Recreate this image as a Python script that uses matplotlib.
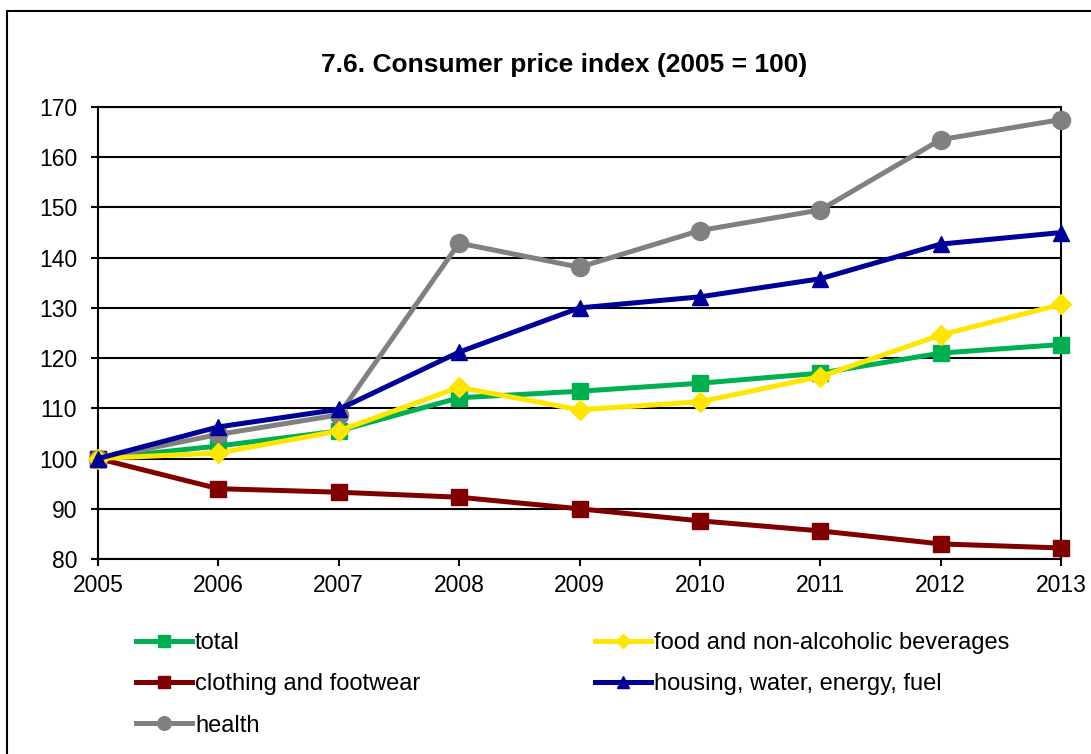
import matplotlib.pyplot as plt
from matplotlib.patches import Rectangle

plt.rcParams['font.family'] = ['Liberation Sans', 'DejaVu Sans']

# -----------------------------
# Data
# -----------------------------
years = [2005, 2006, 2007, 2008, 2009, 2010, 2011, 2012, 2013]
total = [100, 102.5, 105.5, 112.1, 113.4, 115.0, 117.0, 121.0, 122.7]
food = [100, 101.1, 105.5, 114.2, 109.7, 111.3, 116.3, 124.6, 130.7]
clothing = [100, 94.0, 93.3, 92.3, 90.0, 87.6, 85.6, 83.0, 82.2]
housing = [100, 106.3, 109.8, 121.2, 130.0, 132.2, 135.8, 142.7, 145.0]
health = [100, 104.8, 108.7, 142.9, 138.1, 145.4, 149.5, 163.5, 167.5]
y_ticks = [80, 90, 100, 110, 120, 130, 140, 150, 160, 170]

# -----------------------------
# Figure
# -----------------------------
fig = plt.figure(figsize=(10.91, 7.54), dpi=100)
fig.patches.append(Rectangle((7 / 1091, -0.1), 1.2, 1 - 11 / 754 + 0.1,
                             transform=fig.transFigure, fill=False,
                             edgecolor='black', linewidth=1.5))

ax = fig.add_axes([98 / 1091, 1 - 559 / 754, (1061 - 98) / 1091, (559 - 107) / 754])

lw = 3.6
series = [
    (total, '#00b050', 's', 11, 'total'),
    (clothing, '#800000', 's', 11, 'clothing and footwear'),
    (health, '#808080', 'o', 13, 'health'),
    (food, '#ffe600', 'D', 10, 'food and non-alcoholic beverages'),
    (housing, '#000099', '^', 12, 'housing, water, energy, fuel'),
]
for vals, col, mk, ms, name in series:
    ax.plot(years, vals, color=col, marker=mk, markersize=ms, lw=lw,
            label=name, clip_on=False, zorder=3)

ax.set_xlim(2005, 2013)
ax.set_ylim(80, 170)
ax.set_xticks(years)
ax.set_yticks(y_ticks)
ax.yaxis.grid(True, color='black', linewidth=1.5)
ax.set_axisbelow(True)
for s in ax.spines.values():
    s.set_linewidth(1.5)
ax.tick_params(labelsize=16.5, length=5, width=1.5, direction='out')
ax.tick_params(axis='y', pad=10)
ax.tick_params(axis='x', pad=6)
for lbl in ax.get_xticklabels():
    lbl.set_clip_on(False)

ax.set_title('7.6. Consumer price index (2005 = 100)', fontsize=19,
             fontweight='bold', pad=25, x=(564 - 98) / 963)

fig.legend(loc='upper left', bbox_to_anchor=(136 / 1091, 1 - 632 / 754), ncol=2,
           frameon=False, fontsize=17, handlelength=2.37, handletextpad=0.13,
           columnspacing=7.4, labelspacing=0.82, borderpad=0, borderaxespad=0,
           markerscale=0.75)

fig.savefig('out.png', dpi=100)
